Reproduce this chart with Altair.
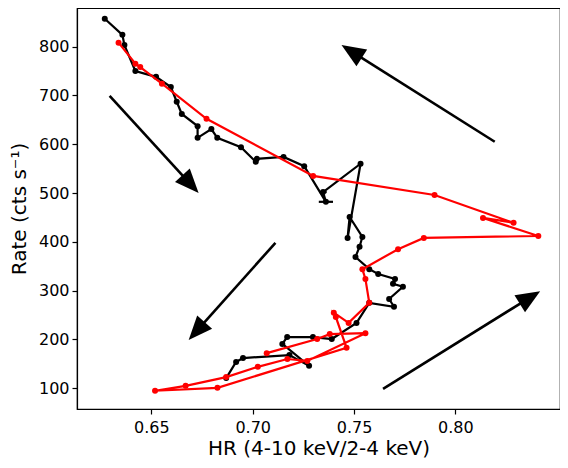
import math
import altair as alt
import pandas as pd

# ---- data ----
black_hr = [0.6270, 0.6357, 0.6367, 0.6421, 0.6523, 0.6596, 0.6625, 0.6650, 0.6728, 0.6728,
            0.6796, 0.6825, 0.6942, 0.7015, 0.7020, 0.7152, 0.7254, 0.7361, 0.7347, 0.7532,
            0.7468, 0.7478, 0.7541, 0.7527, 0.7507, 0.7575, 0.7619, 0.7702, 0.7692, 0.7741,
            0.7673, 0.7697, 0.7575, 0.7512, 0.7390, 0.7297, 0.7170, 0.7146, 0.7278, 0.7181,
            0.6952, 0.6918, 0.6869]
black_rate = [857, 824, 803, 750, 738, 717, 687, 662, 637, 613,
              631, 613, 594, 564, 570, 574, 555, 482, 502, 560,
              408, 451, 410, 390, 369, 344, 334, 324, 314, 308,
              283, 267, 275, 234, 201, 205, 205, 191, 146, 168,
              162, 154, 121]

red_hr = [0.6338, 0.6421, 0.6445, 0.6552, 0.6772, 0.7298, 0.7897, 0.8287, 0.8136, 0.8409,
          0.7844, 0.7717, 0.7541, 0.7556, 0.7575, 0.7473, 0.7400, 0.7410, 0.7463, 0.6826,
          0.6518, 0.6669, 0.6869, 0.7025, 0.7171, 0.7269, 0.7556, 0.7380, 0.7318, 0.7069]
red_rate = [808, 765, 758, 724, 652, 535, 496, 439, 449, 412,
            408, 385, 344, 324, 275, 234, 255, 246, 183, 101,
            95, 105, 123, 144, 160, 156, 213, 211, 201, 172]

# horizontal error bars visible on a few black points
err_hr = [0.7361, 0.7347, 0.7478]
err_rate = [482, 502, 451]
err_dhr = [0.0035, 0.0018, 0.0012]

# arrows: start and tip
arrow_x0 = [0.6294, 0.8194, 0.7112, 0.7643]
arrow_y0 = [699, 605, 398, 99]
arrow_x1 = [0.6733, 0.7438, 0.6684, 0.8418]
arrow_y1 = [500, 803, 199, 299]

x_ticks = [0.65, 0.70, 0.75, 0.80]
y_ticks = [100, 200, 300, 400, 500, 600, 700, 800]

# ---- layout ----
XMIN, XMAX = 0.6133, 0.8516
YMIN, YMAX = 57.6, 879.0
W, H = 483, 401
FONT = "DejaVu Sans"

black = pd.DataFrame({"hr": black_hr, "rate": black_rate, "i": range(len(black_hr))})
red = pd.DataFrame({"hr": red_hr, "rate": red_rate, "i": range(len(red_hr))})
err = pd.DataFrame({"hr": err_hr, "rate": err_rate,
                    "lo": [a - d for a, d in zip(err_hr, err_dhr)],
                    "hi": [a + d for a, d in zip(err_hr, err_dhr)]})

sx = W / (XMAX - XMIN)
sy = H / (YMAX - YMIN)
HEAD_LEN = 24
rows = []
for x0, y0, x1, y1 in zip(arrow_x0, arrow_y0, arrow_x1, arrow_y1):
    dx = (x1 - x0) * sx
    dy = -(y1 - y0) * sy
    n = math.hypot(dx, dy)
    ux, uy = dx / n, dy / n
    ang = math.degrees(math.atan2(dx, -dy)) % 360
    xs = x1 - HEAD_LEN * 0.8 * ux / sx
    ys = y1 + HEAD_LEN * 0.8 * uy / sy
    rows.append({"x0": x0, "y0": y0, "xs": xs, "ys": ys, "x1": x1, "y1": y1, "ang": ang})
arrows = pd.DataFrame(rows)

xscale = alt.Scale(domain=[XMIN, XMAX], nice=False, zero=False)
yscale = alt.Scale(domain=[YMIN, YMAX], nice=False, zero=False)

xaxis = alt.Axis(title="HR (4-10 keV/2-4 keV)", values=x_ticks, format=".2f")
yaxis = alt.Axis(title="Rate (cts s\u207b\u00b9)", values=y_ticks, format="d")


def series(df, color):
    return alt.Chart(df).mark_line(
        color=color, strokeWidth=2.2, clip=True,
        point=alt.OverlayMarkDef(filled=True, size=36, color=color, opacity=1),
    ).encode(
        x=alt.X("hr:Q", scale=xscale, axis=xaxis),
        y=alt.Y("rate:Q", scale=yscale, axis=yaxis),
        order="i:Q",
    )


shafts = alt.Chart(arrows).mark_rule(color="black", strokeWidth=2.6).encode(
    x=alt.X("x0:Q", scale=xscale), y=alt.Y("y0:Q", scale=yscale),
    x2="xs:Q", y2="ys:Q",
)
heads = alt.Chart(arrows).mark_point(
    shape="M0,0 L-1,2.4 L1,2.4 Z", filled=True, size=400, color="black", opacity=1,
).encode(
    x=alt.X("x1:Q", scale=xscale), y=alt.Y("y1:Q", scale=yscale),
    angle=alt.Angle("ang:Q", scale=None),
)
errbars = alt.Chart(err).mark_rule(color="black", strokeWidth=2.2).encode(
    x=alt.X("lo:Q", scale=xscale), x2="hi:Q", y=alt.Y("rate:Q", scale=yscale),
)

chart = alt.layer(
    shafts, heads, series(black, "black"), errbars, series(red, "#ff0000")
).properties(
    width=W, height=H,
    autosize=alt.AutoSizeParams(type="none"),
    padding={"left": 69, "top": 0, "right": 0, "bottom": 51},
).configure_view(
    stroke="black", strokeWidth=1.2,
).configure_axis(
    grid=False, domainColor="black", domainWidth=1.2, tickColor="black", tickWidth=1.2,
    tickSize=5, labelColor="black", titleColor="black",
    labelFont=FONT, titleFont=FONT, labelFontSize=16, titleFontSize=20,
    titleFontWeight="normal",
).configure_axisX(
    labelPadding=5, titlePadding=3,
).configure_axisY(
    labelPadding=3, titlePadding=9,
)

chart.save("out.html", embed_options={"renderer": "svg", "actions": False})
